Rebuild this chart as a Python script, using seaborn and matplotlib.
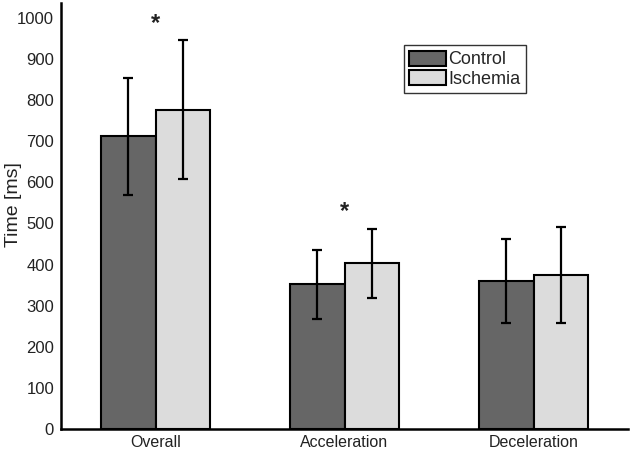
import pandas as pd
import seaborn as sns
import matplotlib.pyplot as plt

# values
phases = ['Overall', 'Acceleration', 'Deceleration']
groups = ['Control', 'Ischemia']
control_mean = [712, 352, 360]
control_sd = [142, 84, 102]
ischemia_mean = [777, 403, 374]
ischemia_sd = [168, 84, 117]
star_phases = ['Overall', 'Acceleration']
star_height = [985, 530]

df = pd.DataFrame({
    'Phase': phases * 2,
    'Group': ['Control'] * 3 + ['Ischemia'] * 3,
    'Time': control_mean + ischemia_mean,
    'SD': control_sd + ischemia_sd,
})

sns.set_style('white')
plt.rcParams['font.family'] = ['Liberation Sans', 'DejaVu Sans']

fig = plt.figure(figsize=(6.3, 4.51), dpi=100)
ax = fig.add_axes([61 / 630, 22 / 451, 567 / 630, 426 / 451])

sns.barplot(data=df, x='Phase', y='Time', hue='Group', order=phases, hue_order=groups,
            palette=['#666666', '#dcdcdc'], edgecolor='black', linewidth=1.5,
            width=0.572, gap=0, errorbar=None, ax=ax)

# error bars on top of each bar
bars = ax.patches[:6]
for bar, (_, row) in zip(bars, df.iterrows()):
    x = bar.get_x() + bar.get_width() / 2
    ax.errorbar(x, row['Time'], yerr=row['SD'], fmt='none', ecolor='black',
                elinewidth=1.6, capsize=3.5, capthick=1.6)

# significance stars
for p, h in zip(star_phases, star_height):
    ax.text(phases.index(p), h, '*', ha='center', va='center', fontsize=17,
            fontweight='bold', color='#222222')

ax.set_xlim(-0.5, 2.5)
ax.set_ylim(0, 1036)
ax.set_yticks(range(0, 1001, 100))
ax.tick_params(axis='y', length=0, labelsize=12, colors='#222222', pad=5)
ax.tick_params(axis='x', length=0, labelsize=11.5, colors='#222222', pad=4)
ax.set_xlabel('')
ax.set_ylabel('Time [ms]', fontsize=14, color='#222222')
ax.yaxis.set_label_coords(-0.069, 0.526)
sns.despine(ax=ax)
for s in ['left', 'bottom']:
    ax.spines[s].set_color('black')
    ax.spines[s].set_linewidth(1.8)

leg = ax.legend(loc='upper left', bbox_to_anchor=(0.605, 0.901), fontsize=13,
                frameon=True, fancybox=False, edgecolor='black', borderpad=0.3,
                handlelength=2.0, handleheight=0.9, handletextpad=0.15, labelspacing=0.1,
                borderaxespad=0)
leg.get_frame().set_linewidth(1.0)

fig.savefig('out.png', dpi=100)
